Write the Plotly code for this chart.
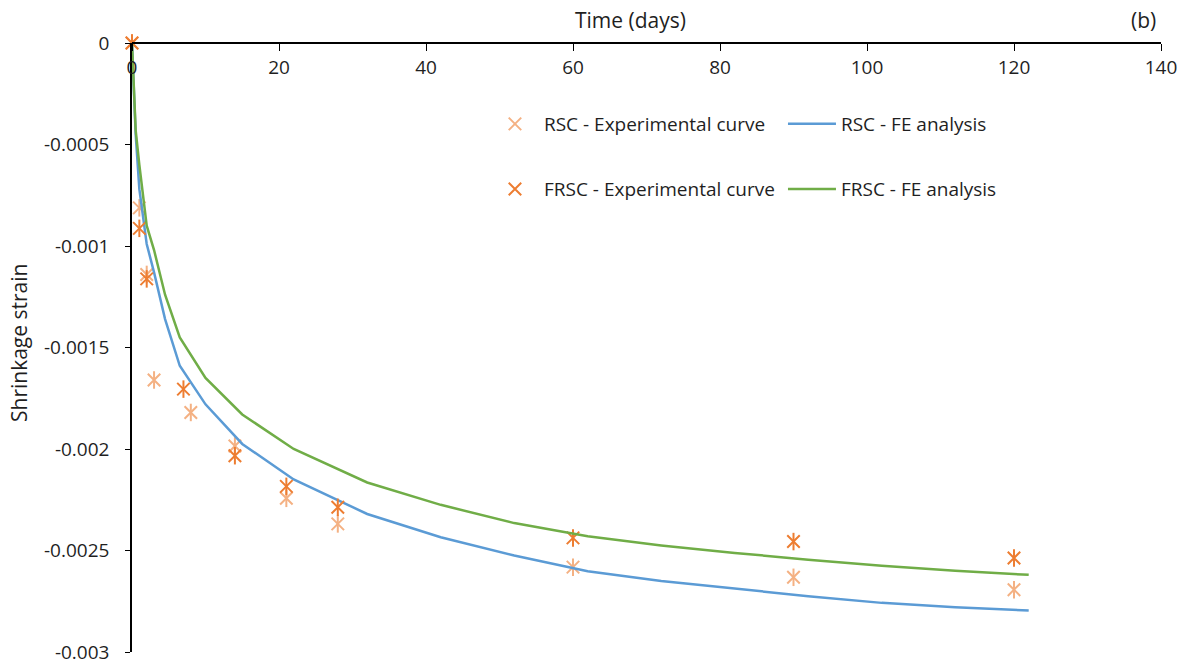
import plotly.graph_objects as go

# Experimental shrinkage measurements (days, strain)
rsc_exp_days = [0, 1, 2, 3, 8, 14, 21, 28, 60, 90, 120]
rsc_exp_strain = [0, -0.000812, -0.00114, -0.00166, -0.00182, -0.001985, -0.002243,
                  -0.002369, -0.002582, -0.002632, -0.002693]

frsc_exp_days = [0, 1, 2, 7, 14, 21, 28, 60, 90, 120]
frsc_exp_strain = [0, -0.000913, -0.001162, -0.001705, -0.002033, -0.002184,
                   -0.002287, -0.002438, -0.002456, -0.002537]

# Finite-element predictions
fe_days = [0, 0.5, 1, 2, 3, 4.5, 6.5, 10, 15, 22, 32, 42, 52, 62, 72, 82, 92, 102, 112, 122]
rsc_fe_strain = [0, -0.00045, -0.00072, -0.00099, -0.00113, -0.00136, -0.00159, -0.00178,
                 -0.001975, -0.00215, -0.00232, -0.002435, -0.002525, -0.002602, -0.00265,
                 -0.002688, -0.002725, -0.002758, -0.00278, -0.002796]
frsc_fe_strain = [0, -0.00043, -0.0006, -0.0009, -0.00102, -0.00124, -0.00145, -0.00165,
                  -0.00183, -0.002, -0.002165, -0.002275, -0.002365, -0.00243, -0.002475,
                  -0.002512, -0.002545, -0.002575, -0.0026, -0.00262]

x_ticks = [0, 20, 40, 60, 80, 100, 120, 140]
y_ticks = [0, -0.0005, -0.001, -0.0015, -0.002, -0.0025, -0.003]
y_tick_text = ["0", "-0.0005", "-0.001", "-0.0015", "-0.002", "-0.0025", "-0.003"]

RSC_EXP = "#F4B183"
FRSC_EXP = "#ED7D31"
RSC_FE = "#5B9BD5"
FRSC_FE = "#70AD47"
FONT = "Open Sans"
TXT = "#1f1f1f"
MSIZE = 12.5

W, H = 1189, 666
ML, MR, MT, MB = 132, 28, 43, 14


def star_traces(x, y, color, name, legend):
    # Excel-style star marker: an X crossed by a vertical bar
    a = go.Scatter(x=x, y=y, mode="markers", name=name, legend=legend,
                   legendgroup=name, cliponaxis=False,
                   marker=dict(symbol="x-thin-open", size=MSIZE, color=color,
                               line=dict(color=color, width=2)))
    b = go.Scatter(x=x, y=y, mode="markers", name=name, legendgroup=name,
                   showlegend=False, cliponaxis=False,
                   marker=dict(symbol="line-ns-open", size=MSIZE, color=color,
                               line=dict(color=color, width=2)))
    return [a, b]


fig = go.Figure()
for t in star_traces(rsc_exp_days, rsc_exp_strain, RSC_EXP, "RSC - Experimental curve", "legend"):
    fig.add_trace(t)
fig.add_trace(go.Scatter(x=fe_days, y=rsc_fe_strain, mode="lines", name="RSC - FE analysis",
                         legend="legend", line=dict(color=RSC_FE, width=2.5)))
for t in star_traces(frsc_exp_days, frsc_exp_strain, FRSC_EXP, "FRSC - Experimental curve", "legend2"):
    fig.add_trace(t)
fig.add_trace(go.Scatter(x=fe_days, y=frsc_fe_strain, mode="lines", name="FRSC - FE analysis",
                         legend="legend2", line=dict(color=FRSC_FE, width=2.5)))

legend_common = dict(orientation="h", xanchor="left", yanchor="middle",
                     entrywidth=234, entrywidthmode="pixels", itemwidth=48,
                     font=dict(family=FONT, size=19, color=TXT),
                     bgcolor="rgba(0,0,0,0)")


def px_to_paper(px, py):
    return (px - ML) / (W - ML - MR), 1 - (py - MT) / (H - MT - MB)


def label(text, px, py, size, angle=0):
    x, y = px_to_paper(px, py)
    return dict(text=text, x=x, y=y, xref="paper", yref="paper",
                xanchor="center", yanchor="middle", textangle=angle,
                showarrow=False, font=dict(family=FONT, size=size, color=TXT))


fig.update_layout(
    width=W, height=H,
    margin=dict(l=ML, r=MR, t=MT, b=MB),
    plot_bgcolor="white", paper_bgcolor="white",
    font=dict(family=FONT, size=18, color=TXT),
    legend=dict(x=0.344, y=0.867, **legend_common),
    legend2=dict(x=0.344, y=0.76, **legend_common),
    # time axis runs along the top edge, with its labels hanging below the line
    xaxis=dict(range=[0, 140], side="bottom", anchor="free", position=1,
               tickvals=x_ticks, ticks="outside", ticklen=7, tickwidth=1.3,
               tickcolor="black", ticklabelstandoff=0,
               showline=True, linecolor="black", linewidth=1.5,
               showgrid=False, zeroline=False, automargin=False,
               tickfont=dict(family=FONT, size=19, color=TXT)),
    yaxis=dict(range=[-0.003, 0], tickvals=y_ticks, ticktext=y_tick_text,
               ticks="outside", ticklen=5, tickwidth=1.3, tickcolor="black",
               ticklabelstandoff=12, automargin=False,
               showline=True, linecolor="black", linewidth=1.5,
               showgrid=False, zeroline=False,
               tickfont=dict(family=FONT, size=19, color=TXT)),
    annotations=[
        label("Time (days)", 630, 20, 21),
        label("(b)", 1143, 20, 21),
        label("Shrinkage strain", 19, 343, 21, angle=-90),
    ],
)

fig.write_html("out.html")
